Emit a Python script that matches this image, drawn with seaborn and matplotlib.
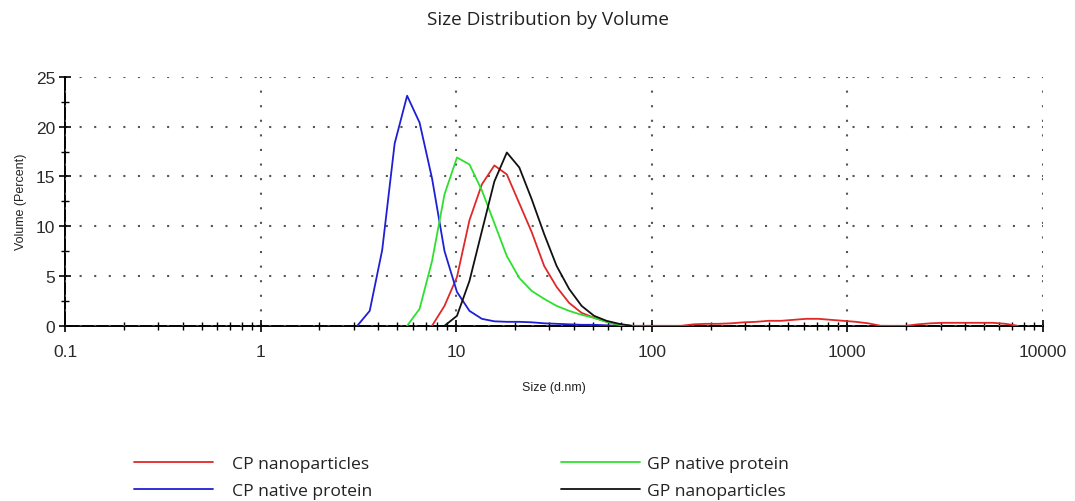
import numpy as np
import pandas as pd
import matplotlib
matplotlib.use("Agg")
import matplotlib.pyplot as plt
import seaborn as sns
from matplotlib.ticker import LogLocator, MultipleLocator, FixedLocator

# Size classes (d.nm)
cp_nano_size = [7.531, 8.721, 10.1, 11.7, 13.54, 15.69, 18.17, 21.04, 24.36, 28.21, 32.67, 37.84,
                43.82, 50.75, 58.77, 68.06, 78.82, 91.28, 105.7, 122.4, 141.8, 164.2, 190.1, 220.2,
                255.0, 295.3, 342.0, 396.1, 458.7, 531.2, 615.1, 712.4, 825.0, 955.4, 1106, 1281,
                1484, 1718, 1990, 2305, 2669, 3091, 3580, 4145, 4801, 5560, 6439, 7456]
cp_nano_vol = [0.0, 2.0, 4.9, 10.6, 14.2, 16.1, 15.2, 12.3, 9.4, 6.0, 3.9, 2.3,
               1.3, 0.8, 0.4, 0.1, 0.0, 0.0, 0.0, 0.0, 0.0, 0.15, 0.2, 0.2,
               0.25, 0.35, 0.4, 0.5, 0.5, 0.6, 0.7, 0.7, 0.6, 0.5, 0.4, 0.25,
               0.0, 0.0, 0.0, 0.15, 0.25, 0.3, 0.3, 0.3, 0.3, 0.3, 0.2, 0.0]

cp_native_size = [3.122, 3.615, 4.187, 4.849, 5.615, 6.503, 7.531, 8.721, 10.1, 11.7, 13.54, 15.69,
                  18.17, 21.04, 24.36, 28.21, 32.67, 37.84, 43.82, 50.75, 58.77, 68.06]
cp_native_vol = [0.0, 1.5, 7.6, 18.3, 23.1, 20.4, 14.8, 7.5, 3.4, 1.5, 0.7, 0.45,
                 0.4, 0.4, 0.35, 0.25, 0.2, 0.15, 0.1, 0.1, 0.05, 0.0]

gp_native_size = [5.615, 6.503, 7.531, 8.721, 10.1, 11.7, 13.54, 15.69, 18.17, 21.04, 24.36, 28.21,
                  32.67, 37.84, 43.82, 50.75, 58.77, 68.06, 78.82]
gp_native_vol = [0.0, 1.7, 6.5, 13.2, 16.9, 16.2, 13.6, 10.3, 7.0, 4.8, 3.5, 2.7,
                 2.0, 1.5, 1.1, 0.8, 0.4, 0.1, 0.0]

gp_nano_size = [8.721, 10.1, 11.7, 13.54, 15.69, 18.17, 21.04, 24.36, 28.21, 32.67, 37.84, 43.82,
                50.75, 58.77, 68.06, 78.82]
gp_nano_vol = [0.0, 1.0, 4.5, 9.5, 14.5, 17.4, 15.9, 12.7, 9.2, 6.0, 3.7, 2.0,
               1.0, 0.5, 0.2, 0.0]

series = [
    ("CP nanoparticles", cp_nano_size, cp_nano_vol, "#e02828"),
    ("CP native protein", cp_native_size, cp_native_vol, "#1f1fd6"),
    ("GP native protein", gp_native_size, gp_native_vol, "#2ee02e"),
    ("GP nanoparticles", gp_nano_size, gp_nano_vol, "#111111"),
]

x_ticks = [0.1, 1, 10, 100, 1000, 10000]
x_tick_labels = ["0.1", "1", "10", "100", "1000", "10000"]
y_ticks = [0, 5, 10, 15, 20, 25]

sns.set_theme(style="white")
plt.rcParams['font.family'] = ['Liberation Sans', 'DejaVu Sans']

fig = plt.figure(figsize=(10.75, 5.02), dpi=100)
ax = fig.add_axes([0.0605, 0.349, 0.9095, 0.496])

for name, xs, ys, col in series:
    df = pd.DataFrame({"size": xs, "vol": ys})
    sns.lineplot(data=df, x="size", y="vol", ax=ax, color=col, linewidth=1.3,
                 label=name, estimator=None, sort=False, legend=False)

ax.set_xscale("log")
ax.set_xlim(0.1, 10000)
ax.set_ylim(0, 25)
ax.xaxis.set_major_locator(FixedLocator(x_ticks))
ax.set_xticklabels(x_tick_labels)
ax.xaxis.set_minor_locator(LogLocator(base=10, subs=np.arange(2, 10)))
ax.xaxis.set_minor_formatter(plt.NullFormatter())
ax.yaxis.set_major_locator(FixedLocator(y_ticks))
ax.yaxis.set_minor_locator(MultipleLocator(2.5))

ax.grid(True, which="major", color="#555555", linestyle=(0, (1, 6)), linewidth=1.5)
for s in ["top", "right"]:
    ax.spines[s].set_visible(False)
for s in ["left", "bottom"]:
    ax.spines[s].set_color("black")
    ax.spines[s].set_linewidth(1.4)
    ax.spines[s].set_zorder(0.5)

ax.tick_params(axis="both", which="major", direction="inout", length=8, width=1.2,
               color="black", labelsize=12.5, labelcolor="#2a2a2a", bottom=True, left=True)
ax.tick_params(axis="both", which="minor", direction="inout", length=6, width=1.0,
               color="black", bottom=True, left=True)
ax.tick_params(axis="x", pad=9)
ax.tick_params(axis="y", pad=3)

ax.set_xlabel("Size (d.nm)", fontsize=9, labelpad=16, color="#222222")
ax.set_ylabel("Volume (Percent)", fontsize=9, labelpad=6, color="#222222")
fig.suptitle("Size Distribution by Volume", fontsize=13.6, x=0.51, y=0.978,
             family=["Open Sans", "DejaVu Sans"], color="#222222")

handles = [plt.Line2D([], [], color=c, linewidth=1.3) for _, _, _, c in series]
labels = [n for n, _, _, _ in series]
leg_kw = dict(frameon=False, loc="center left", borderpad=0, borderaxespad=0,
              handlelength=4.5, labelspacing=0.6,
              prop={"family": ["Open Sans", "DejaVu Sans"], "size": 12.6})
leg1 = fig.legend(handles[:2], labels[:2], bbox_to_anchor=(134 / 1075, 0.0468),
                  handletextpad=1.1, **leg_kw)
leg2 = fig.legend(handles[2:], labels[2:], bbox_to_anchor=(561 / 1075, 0.0468),
                  handletextpad=0.4, **leg_kw)
for lg in (leg1, leg2):
    for t in lg.get_texts():
        t.set_color("#222222")

fig.savefig("out.png", dpi=100)
